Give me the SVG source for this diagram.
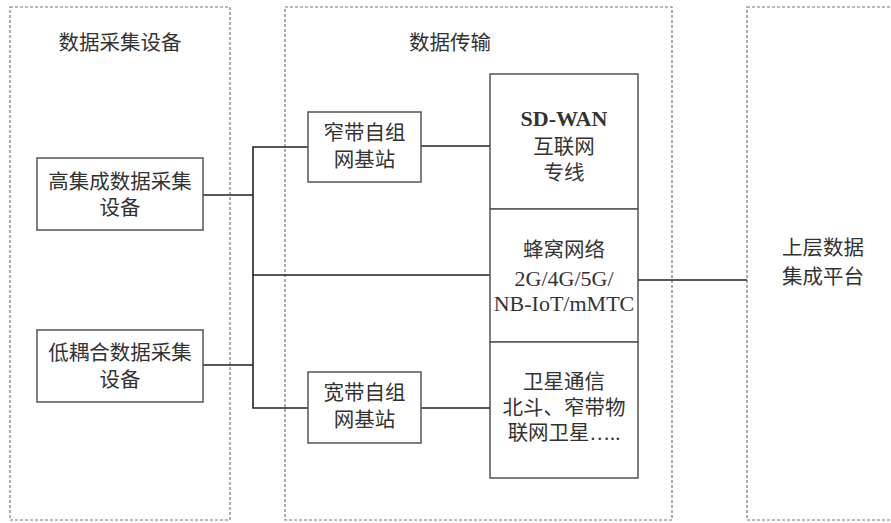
<svg xmlns="http://www.w3.org/2000/svg" width="891" height="523" viewBox="0 0 891 523">
<style>
.panel{fill:none;stroke:#777;stroke-width:1.2;stroke-dasharray:3 2}
.box{fill:#fff;stroke:#555;stroke-width:1.5}
.ln{fill:none;stroke:#222;stroke-width:1.6}
text{font-family:"Liberation Serif","Noto Sans CJK SC",serif;font-size:20.5px;fill:#333;text-anchor:middle;dominant-baseline:central}
.lat{font-size:22px}
</style>
<rect width="891" height="523" fill="#fff"/>
<g id="panel-collect">
<rect class="panel" x="10" y="7" width="220" height="513"/>
<text x="120" y="43">数据采集设备</text>
</g>
<g id="panel-transfer">
<rect class="panel" x="285" y="7" width="387" height="513"/>
<text x="450" y="43">数据传输</text>
</g>
<g id="panel-platform">
<rect class="panel" x="747" y="7" width="160" height="513"/>
<text x="823" y="248">上层数据</text>
<text x="823" y="277">集成平台</text>
</g>
<g id="connectors">
<polyline class="ln" points="203,195 253,195"/>
<polyline class="ln" points="203,365 253,365"/>
<polyline class="ln" points="308,147 253,147 253,408 308,408"/>
<polyline class="ln" points="253,275 490,275"/>
<polyline class="ln" points="421,146 490,146"/>
<polyline class="ln" points="421,408 490,408"/>
<polyline class="ln" points="638,280 747,280"/>
</g>
<g id="high-device">
<rect class="box" x="37" y="158" width="166" height="72"/>
<text x="120" y="182">高集成数据采集</text>
<text x="120" y="208">设备</text>
</g>
<g id="low-device">
<rect class="box" x="37" y="330" width="166" height="72"/>
<text x="120" y="353">低耦合数据采集</text>
<text x="120" y="380">设备</text>
</g>
<g id="narrow-station">
<rect class="box" x="308" y="112" width="113" height="70"/>
<text x="364.500" y="133">窄带自组</text>
<text x="364.500" y="160">网基站</text>
</g>
<g id="wide-station">
<rect class="box" x="308" y="372" width="113" height="71"/>
<text x="364.500" y="393">宽带自组</text>
<text x="364.500" y="420">网基站</text>
</g>
<g id="sdwan">
<rect class="box" x="490" y="74" width="148" height="135"/>
<text x="564" y="118" class="lat" font-weight="bold">SD-WAN</text>
<text x="564" y="147">互联网</text>
<text x="564" y="173">专线</text>
</g>
<g id="cellular">
<rect class="box" x="490" y="209" width="148" height="133"/>
<text x="564" y="250">蜂窝网络</text>
<text x="564" y="278" class="lat">2G/4G/5G/</text>
<text x="564" y="303" class="lat">NB-IoT/mMTC</text>
</g>
<g id="satellite">
<rect class="box" x="490" y="342" width="148" height="136"/>
<text x="564" y="382">卫星通信</text>
<text x="564" y="408">北斗、窄带物</text>
<text x="564" y="433">联网卫星…..</text>
</g>
</svg>
